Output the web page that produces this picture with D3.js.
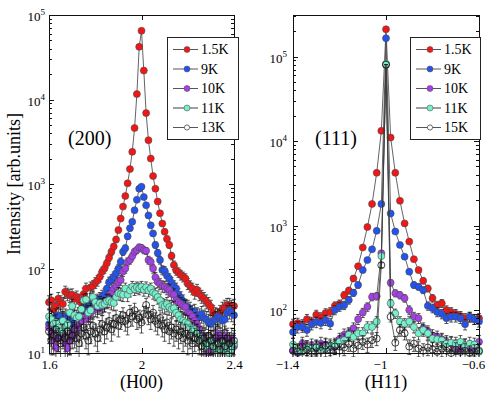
<!DOCTYPE html>
<html>
<head>
<meta charset="utf-8">
<script src="https://cdn.jsdelivr.net/npm/d3@7"></script>
<style>
body { margin: 0; background: #fff; }
svg text, svg tspan { font-family: "Liberation Serif", "Times New Roman", serif !important; fill: #000; }
</style>
</head>
<body>
<div id="chart-area"></div>
<script>
// ---- (200) scan, H from 1.60 to 2.40 ----
var h200 = [1.60, 1.61, 1.62, 1.63, 1.64, 1.65, 1.66, 1.67, 1.68, 1.69,
            1.70, 1.71, 1.72, 1.73, 1.74, 1.75, 1.76, 1.77, 1.78, 1.79,
            1.80, 1.81, 1.82, 1.83, 1.84, 1.85, 1.86, 1.87, 1.88, 1.89,
            1.90, 1.91, 1.92, 1.93, 1.94, 1.95, 1.96, 1.97, 1.98, 1.99,
            2.00, 2.01, 2.02, 2.03, 2.04, 2.05, 2.06, 2.07, 2.08, 2.09,
            2.10, 2.11, 2.12, 2.13, 2.14, 2.15, 2.16, 2.17, 2.18, 2.19,
            2.20, 2.21, 2.22, 2.23, 2.24, 2.25, 2.26, 2.27, 2.28, 2.29,
            2.30, 2.31, 2.32, 2.33, 2.34, 2.35, 2.36, 2.37, 2.38, 2.39,
            2.40];
var red200 = [40, 42, 33, 36, 44, 40, 38, 53, 50, 48,
              49, 44, 46, 42, 40, 50, 58, 38, 60, 62,
              68, 72, 80, 92, 100, 115, 135, 158, 182, 220,
              285, 390, 540, 720, 1020, 1500, 2400, 4600, 11600, 42000,
              65000, 22000, 6900, 3300, 2000, 1240, 880, 620, 450, 340,
              272, 224, 190, 141, 110, 95, 90, 84, 80, 76,
              66, 62, 58, 52, 56, 50, 47, 44, 41, 38,
              35, 30, 28, 27, 30, 33, 35, 37, 37, 35,
              36];
var blue200 = [22, 26, 24, 27, 28, 27, 25, 27, 26, 22,
               24, 26, 24, 28, 30, 33, 35, 34, 37, 38,
               40, 42, 44, 47, 49, 58, 69, 74, 80, 88,
               100, 120, 158, 174, 240, 300, 357, 490, 650, 880,
               930, 700, 560, 425, 325, 260, 190, 153, 126, 96,
               94, 82, 76, 68, 62, 58, 49, 45, 41, 36,
               35, 33, 30, 31, 28, 27, 29, 26, 25, 23,
               22, 24, 25, 27, 26, 24, 25, 30, 32, 30,
               28];
var purple200 = [20, 17, 14, 11.5, 15, 18, 16, 13, 11.4, 14,
                 18, 16.3, 20, 22.5, 24, 26, 25, 28, 30, 32,
                 34, 33, 36, 35, 38, 42, 46, 51, 58, 62,
                 69, 73, 92, 100, 120, 126, 140, 158, 165, 178,
                 175, 165, 162, 126, 120, 100, 79, 69, 66, 62,
                 61, 58, 56, 50, 49, 42, 40, 38, 36, 35,
                 30, 29, 27, 24, 22, 19, 16, 14, 12.4, 10.2,
                 11, 14, 15.6, 17, 15, 13, 16, 14, 13, 15,
                 12];
var cyan200 = [27, 25, 22, 23, 20, 18, 24, 20, 22, 30,
               36, 28, 26, 27, 33, 42, 43, 30, 32, 46,
               40, 36, 39, 37, 38, 41, 42, 40, 39, 46,
               51, 50, 49, 58, 49, 55, 61, 57, 60, 58,
               61, 56, 60, 55, 58, 52, 50, 46, 42, 37,
               36, 38, 35, 33, 34, 30, 28, 25, 24, 23,
               22, 20, 18, 19, 17, 15.6, 14, 13, 12, 13,
               14, 12, 11, 10.8, 12, 13, 11, 12, 10, 11,
               12.8];
var open200 = [18, 14, 16, 19, 15, 13, 17, 15, 18, 14,
               16, 19, 15, 13, 17, 20, 16, 14, 18, 21,
               17, 15, 19, 22, 18, 20, 24, 19, 22, 26,
               21, 25, 28, 24, 22, 30, 27, 32, 25, 26,
               23, 29, 37, 28, 25, 30, 24, 22, 26, 21,
               19, 23, 18, 20, 17, 19, 16, 18, 15, 17,
               14, 16, 13, 15, 17, 14, 12, 15, 13, 16,
               14, 12, 15, 13, 11, 14, 12, 15, 13, 12,
               14];

// ---- (111) scan, H from -1.40 to -0.60 ----
var h111 = [-1.40, -1.38, -1.36, -1.34, -1.32, -1.30, -1.28, -1.26, -1.24, -1.22,
            -1.20, -1.18, -1.16, -1.14, -1.12, -1.10, -1.08, -1.06, -1.04, -1.02,
            -1.00, -0.98, -0.96, -0.94, -0.92, -0.90, -0.88, -0.86, -0.84, -0.82,
            -0.80, -0.78, -0.76, -0.74, -0.72, -0.70, -0.68, -0.66, -0.64, -0.62,
            -0.60];
var red111 = [68, 70, 67, 78, 72, 88, 82, 92, 95, 112,
              118, 150, 170, 236, 330, 550, 960, 1800, 4200, 13200,
              210000, 11000, 4200, 1960, 1060, 645, 400, 297, 222, 180,
              138, 114, 120, 100, 95, 90, 85, 80, 83, 78,
              80];
var blue111 = [55, 63, 64, 58, 68, 72, 70, 76, 69, 100,
               109, 114, 131, 160, 198, 297, 390, 523, 865, 1800,
               165000, 1390, 850, 590, 428, 284, 198, 188, 172, 112,
               105, 95, 90, 80, 83, 83, 80, 68, 83, 78,
               73];
var purple111 = [33, 31, 40, 36, 38, 35, 40, 39, 36, 37,
                 45, 51, 53, 61, 78, 93, 109, 143, 146, 470,
                 80000, 210, 158, 150, 138, 100, 83, 80, 61, 56,
                 50, 48, 45, 42, 40, 37, 34, 38, 36, 35,
                 42];
var cyan111 = [39, 33, 32, 36, 35, 37, 34, 35, 38, 39,
               42, 44, 51, 48, 53, 53, 63, 63, 73, 435,
               82000, 120, 91, 73, 69, 73, 63, 53, 58, 53,
               46, 45, 44, 40, 41, 40, 42, 38, 40, 39,
               32];
var open111 = [33, 32, 37, 34, 32, 36, 33, 38, 34, 37,
               33, 36, 40, 35, 38, 42, 39, 44, 46, 340,
               80000, 83, 41, 58, 53, 37, 40, 35, 33, 36,
               34, 32, 35, 33, 31, 34, 32, 33, 31, 32,
               33];

var temps200 = ["1.5K", "9K", "10K", "11K", "13K"];
var temps111 = ["1.5K", "9K", "10K", "11K", "15K"];
var xTicks200 = [1.6, 2, 2.4];
var xTicks111 = [-1.4, -1, -0.6];
var colours = ["#f21616", "#2352ef", "#a440e4", "#74f0cc", "none"];

var SERIF = "'Liberation Serif', 'Times New Roman', serif";

var svg = d3.select("#chart-area").append("svg")
    .attr("width", 491)
    .attr("height", 393);

// Object Constructor
LogPanel = function(_svg, _cfg) {
    this.svg = _svg;
    this.cfg = _cfg;
    this.initVis();
};

LogPanel.prototype.initVis = function() {
    var vis = this, c = vis.cfg;

    vis.width = c.right - c.left;
    vis.height = c.bottom - c.top;

    vis.x = d3.scaleLinear().domain(c.xDomain).range([0, vis.width]);
    vis.y = d3.scaleLog().domain(c.yDomain).range([vis.height, 0]);

    vis.g = vis.svg.append("g")
        .attr("transform", "translate(" + c.left + "," + c.top + ")");

    // clip a little outside the box so edge markers stay whole
    vis.g.append("clipPath").attr("id", c.id + "-clip")
        .append("rect")
        .attr("x", -4).attr("y", -4)
        .attr("width", vis.width + 8).attr("height", vis.height + 8);

    vis.plot = vis.g.append("g").attr("clip-path", "url(#" + c.id + "-clip)");

    // log ticks: majors at decades, minors in between
    var lo = Math.floor(Math.log10(c.yDomain[0])), hi = Math.ceil(Math.log10(c.yDomain[1]));
    vis.majors = [];
    vis.minors = [];
    for (var k = lo; k <= hi; k++) {
        for (var m = 1; m < 10; m++) {
            var v = m * Math.pow(10, k);
            if (v < c.yDomain[0] * 0.999 || v > c.yDomain[1] * 1.001) continue;
            if (m == 1) vis.majors.push(v); else vis.minors.push(v);
        }
    }

    vis.updateVis();
    vis.drawAxes();
};

LogPanel.prototype.updateVis = function() {
    var vis = this, c = vis.cfg;

    var line = d3.line()
        .x(function(d) { return vis.x(d.h); })
        .y(function(d) { return vis.y(d.v); });

    // counting-statistics error bar ends
    function up(d) { return vis.y(d.v + 1.2 * Math.sqrt(d.v)); }
    function dn(d) { return vis.y(Math.max(d.v - 1.2 * Math.sqrt(d.v), 1)); }

    c.series.forEach(function(s, i) {
        var pts = c.h.map(function(h, j) { return { h: h, v: s[j] }; });
        var sg = vis.plot.append("g");

        sg.append("path")
            .datum(pts)
            .attr("fill", "none")
            .attr("stroke", "#3c3c3c")
            .attr("stroke-width", 0.8)
            .attr("d", line);

        var eb = sg.selectAll(".err").data(pts).enter().append("g");
        eb.append("line")
            .attr("x1", function(d) { return vis.x(d.h); })
            .attr("x2", function(d) { return vis.x(d.h); })
            .attr("y1", up)
            .attr("y2", dn)
            .attr("stroke", "#111").attr("stroke-width", 0.7);
        [up, dn].forEach(function(f) {
            eb.append("line")
                .attr("x1", function(d) { return vis.x(d.h) - 2; })
                .attr("x2", function(d) { return vis.x(d.h) + 2; })
                .attr("y1", f)
                .attr("y2", f)
                .attr("stroke", "#111").attr("stroke-width", 0.7);
        });

        sg.selectAll("circle").data(pts).enter().append("circle")
            .attr("cx", function(d) { return vis.x(d.h); })
            .attr("cy", function(d) { return vis.y(d.v); })
            .attr("r", 3.5)
            .attr("fill", colours[i])
            .attr("stroke", colours[i] == "none" ? "#111" : "#4a4a4a")
            .attr("stroke-width", colours[i] == "none" ? 0.8 : 0.6);
    });
};

LogPanel.prototype.drawAxes = function() {
    var vis = this, c = vis.cfg;

    function styleAxis(sel) {
        sel.selectAll("path, line").attr("stroke", "#111").attr("stroke-width", 1)
            .attr("shape-rendering", "crispEdges");
    }

    // left / right frame with inward ticks
    [["axisLeft", 0], ["axisRight", vis.width]].forEach(function(a) {
        vis.g.append("g").attr("transform", "translate(" + a[1] + ",0)")
            .call(d3[a[0]](vis.y).tickValues(vis.majors).tickSize(-5).tickSizeOuter(0).tickFormat(""))
            .call(styleAxis);
        vis.g.append("g").attr("transform", "translate(" + a[1] + ",0)")
            .call(d3[a[0]](vis.y).tickValues(vis.minors).tickSize(-3).tickSizeOuter(0).tickFormat(""))
            .call(styleAxis);
    });

    // bottom axis carries the labels, top is a mirror
    var bottom = vis.g.append("g").attr("transform", "translate(0," + vis.height + ")")
        .call(d3.axisBottom(vis.x).tickValues(c.xTicks).tickSize(-5).tickSizeOuter(0)
            .tickPadding(7)
            .tickFormat(function(d) { return d3.format("")(d).replace("-", "\u2212"); }))
        .call(styleAxis);
    bottom.attr("font-family", SERIF);
    bottom.selectAll("text")
        .style("font-family", SERIF)
        .style("font-size", "13px")
        .attr("dx", c.xLabelShift);

    vis.g.append("g")
        .call(d3.axisTop(vis.x).tickValues(c.xTicks).tickSize(-5).tickSizeOuter(0).tickFormat(""))
        .call(styleAxis);

    // y tick labels as 10^n
    vis.g.selectAll(".ylab").data(vis.majors).enter().append("text")
        .attr("x", -c.yLabelGap)
        .attr("y", function(d) { return vis.y(d) + 6; })
        .attr("text-anchor", "end")
        .style("font-family", SERIF)
        .each(function(d) {
            var t = d3.select(this);
            t.append("tspan").style("font-size", "13px").text("10");
            t.append("tspan").style("font-size", "9px").attr("dy", -6)
                .text(Math.round(Math.log10(d)));
        });

    // axis title & reflection label
    vis.g.append("text")
        .attr("x", vis.width / 2)
        .attr("y", vis.height + 35)
        .attr("text-anchor", "middle")
        .style("font-family", SERIF)
        .style("font-size", "18px")
        .text(c.xTitle);

    vis.g.append("text")
        .attr("x", c.tagX - c.left)
        .attr("y", 145 - c.top)
        .style("font-family", SERIF)
        .style("font-size", "20px")
        .text(c.tag);

    // legend
    var lg = vis.svg.append("g")
        .attr("transform", "translate(" + c.legend[0] + "," + c.legend[1] + ")");
    lg.append("rect")
        .attr("width", c.legend[2]).attr("height", 102)
        .attr("fill", "#fff").attr("stroke", "#222").attr("stroke-width", 1)
        .attr("shape-rendering", "crispEdges");
    c.names.forEach(function(name, i) {
        var row = lg.append("g").attr("transform", "translate(0," + (12.5 + i * 19.5) + ")");
        row.append("line")
            .attr("x1", 6).attr("x2", 31)
            .attr("stroke", i == 3 ? "#888" : "#444")
            .attr("stroke-width", i == 3 ? 1.6 : 0.9);
        row.append("circle")
            .attr("cx", 20).attr("r", colours[i] == "none" ? 2.6 : 3)
            .attr("fill", colours[i] == "none" ? "#fff" : colours[i])
            .attr("stroke", colours[i] == "none" ? "#111" : "#555")
            .attr("stroke-width", 0.6);
        row.append("text")
            .attr("x", 34).attr("y", 4.5)
            .style("font-family", SERIF)
            .style("font-size", "14px")
            .text(name);
    });
};

var panel200 = new LogPanel(svg, {
    id: "p200", left: 49, right: 234, top: 15, bottom: 353,
    xDomain: [1.6, 2.4], yDomain: [10, 1e5],
    h: h200, series: [red200, blue200, purple200, cyan200, open200],
    names: temps200, xTicks: xTicks200, xLabelShift: 0, yLabelGap: 4,
    xTitle: "(H00)", tag: "(200)", tagX: 68,
    legend: [167, 37, 71]
});

var panel111 = new LogPanel(svg, {
    id: "p111", left: 293, right: 479, top: 15, bottom: 353,
    xDomain: [-1.4, -0.6], yDomain: [31, 3.1e5],
    h: h111, series: [red111, blue111, purple111, cyan111, open111],
    names: temps111, xTicks: xTicks111, xLabelShift: -6, yLabelGap: 6,
    xTitle: "(H11)", tag: "(111)", tagX: 315,
    legend: [410, 37, 70]
});

// shared y title
svg.append("text")
    .attr("transform", "translate(20,184) rotate(-90)")
    .attr("text-anchor", "middle")
    .style("font-family", SERIF)
    .style("font-size", "18px")
    .text("Intensity [arb.units]");
</script>
</body>
</html>
